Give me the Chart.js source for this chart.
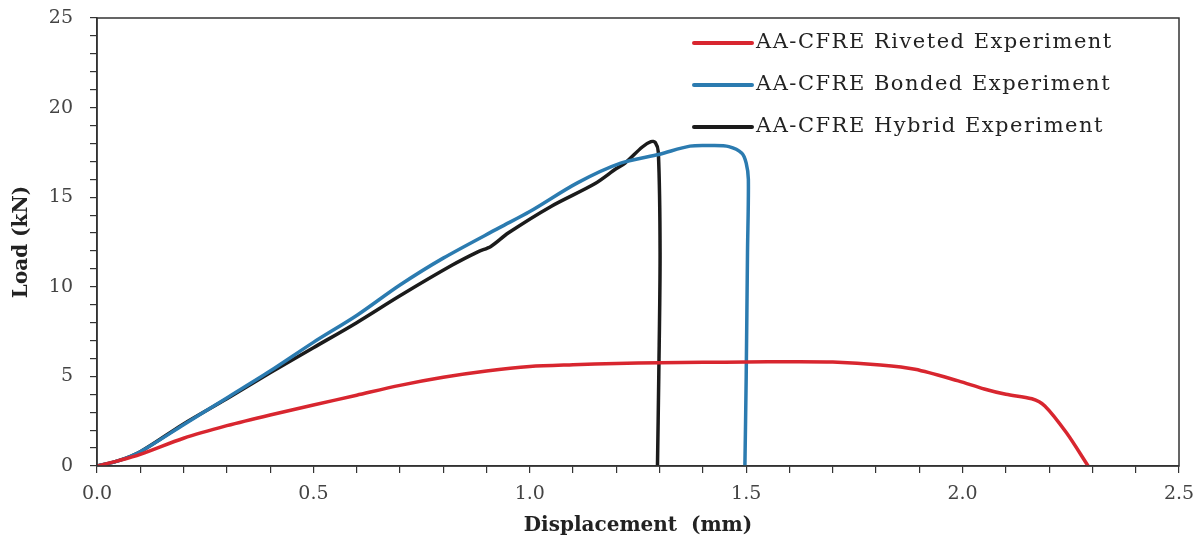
<!DOCTYPE html>
<html>
<head>
<meta charset="utf-8">
<script src="https://cdn.jsdelivr.net/npm/chart.js@4.4.0/dist/chart.umd.min.js"></script>
<style>
  html, body { margin: 0; padding: 0; background: #fff; }
  #wrap { width: 1203px; height: 542px; }
</style>
</head>
<body>
<div id="wrap"><canvas id="grafica"></canvas></div>
<script>
// displacement (mm) / load (kN)
var rivetedX = [0, 0.05, 0.1, 0.2, 0.3, 0.4, 0.5, 0.6, 0.7, 0.8, 0.9, 1.0, 1.1, 1.2, 1.3, 1.4, 1.5, 1.6, 1.7, 1.81, 1.89, 1.99, 2.05, 2.1, 2.16, 2.19, 2.24, 2.29];
var rivetedY = [0, 0.3, 0.65, 1.55, 2.25, 2.85, 3.4, 3.95, 4.5, 4.95, 5.3, 5.55, 5.65, 5.72, 5.76, 5.79, 5.8, 5.82, 5.8, 5.64, 5.4, 4.75, 4.3, 4.0, 3.75, 3.35, 1.85, 0];

var bondedX = [0, 0.05, 0.1, 0.2, 0.3, 0.4, 0.5, 0.6, 0.7, 0.8, 0.93, 1.0, 1.11, 1.21, 1.3, 1.37, 1.42, 1.46, 1.49, 1.5, 1.505, 1.503, 1.5, 1.497];
var bondedY = [0, 0.3, 0.8, 2.3, 3.8, 5.3, 6.9, 8.4, 10.1, 11.6, 13.3, 14.2, 15.8, 16.9, 17.4, 17.85, 17.88, 17.82, 17.45, 16.9, 16.0, 11.9, 5, 0];

var hybridX = [0, 0.05, 0.1, 0.2, 0.3, 0.4, 0.5, 0.6, 0.7, 0.82, 0.88, 0.91, 0.95, 1.05, 1.15, 1.2, 1.22, 1.26, 1.28, 1.29, 1.297, 1.301, 1.298, 1.295];
var hybridY = [0, 0.3, 0.8, 2.35, 3.75, 5.2, 6.6, 8.0, 9.5, 11.2, 11.95, 12.25, 13.0, 14.5, 15.75, 16.6, 16.9, 17.8, 18.1, 18.05, 17.5, 11.9, 5, 0];

var nombres = ['AA-CFRE Riveted Experiment', 'AA-CFRE Bonded Experiment', 'AA-CFRE Hybrid Experiment'];
var colores = ['#d8262f', '#2b7bb0', '#1b1b1b'];

var xMarcas = [0.0, 0.5, 1.0, 1.5, 2.0, 2.5];
var yMarcas = [0, 5, 10, 15, 20, 25];

function puntos(xs, ys) {
    var r = [];
    for (var i = 0; i < xs.length; i++) r.push({x: xs[i], y: ys[i]});
    return r;
}

var fuente = 'DejaVu Serif';

var marco = {
    id: 'marco',
    afterDatasetsDraw: function(chart) {
        var a = chart.chartArea, c = chart.ctx;
        c.save();
        c.strokeStyle = '#333';
        c.lineWidth = 1.5;
        c.strokeRect(a.left, a.top, a.right - a.left, a.bottom - a.top);
        c.restore();
    }
};

var leyenda = {
    id: 'leyenda',
    afterDraw: function(chart) {
        var c = chart.ctx;
        c.save();
        c.font = '21px "' + fuente + '"';
        c.letterSpacing = '1.5px';
        c.textBaseline = 'middle';
        c.fillStyle = '#222';
        chart.data.datasets.forEach(function(ds, i) {
            var y = 43 + i * 42;
            c.strokeStyle = ds.borderColor;
            c.lineWidth = 4;
            c.lineCap = 'round';
            c.beginPath();
            c.moveTo(694, y);
            c.lineTo(752, y);
            c.stroke();
            c.fillText(ds.label, 756, y);
        });
        c.restore();
    }
};

var ctx = document.getElementById('grafica').getContext('2d');
var chart = new Chart(ctx, {
    type: 'scatter',
    data: {
        datasets: [
            {label: nombres[0], data: puntos(rivetedX, rivetedY), borderColor: colores[0]},
            {label: nombres[1], data: puntos(bondedX, bondedY), borderColor: colores[1]},
            {label: nombres[2], data: puntos(hybridX, hybridY), borderColor: colores[2]}
        ].map(function(d) {
            d.showLine = true;
            d.borderWidth = 3.5;
            d.pointRadius = 0;
            d.tension = 0.3;
            d.backgroundColor = d.borderColor;
            return d;
        })
    },
    options: {
        responsive: true,
        maintainAspectRatio: false,
        animation: false,
        layout: {padding: {top: 18, right: 24, left: 0, bottom: 4}},
        plugins: {legend: {display: false}, tooltip: {enabled: false}},
        scales: {
            x: {
                type: 'linear', min: 0, max: 2.5,
                afterFit: function(s) { s.height = 72; s.paddingLeft = 0; s.paddingRight = 0; },
                afterBuildTicks: function(s) {
                    var t = [];
                    for (var i = 0; i <= 25; i++) t.push({value: i / 10});
                    s.ticks = t;
                },
                border: {display: true, color: '#333', width: 1.5},
                grid: {drawOnChartArea: false, drawTicks: true, tickLength: 7, color: '#333', lineWidth: 1.2},
                ticks: {
                    autoSkip: false, maxRotation: 0, padding: 10, color: '#444',
                    font: {family: fuente, size: 19},
                    callback: function(v) {
                        for (var k = 0; k < xMarcas.length; k++) if (Math.abs(v - xMarcas[k]) < 1e-6) return xMarcas[k].toFixed(1);
                        return '';
                    }
                },
                title: {display: true, text: 'Displacement  (mm)', color: '#222', font: {family: fuente, size: 20, weight: 'bold'}, padding: {top: 2, bottom: 0}}
            },
            y: {
                type: 'linear', min: 0, max: 25,
                afterFit: function(s) { s.width = 97; s.paddingTop = 0; s.paddingBottom = 0; },
                afterBuildTicks: function(s) {
                    var t = [];
                    for (var i = 0; i <= 25; i++) t.push({value: i});
                    s.ticks = t;
                },
                border: {display: true, color: '#333', width: 1.5},
                grid: {drawOnChartArea: false, drawTicks: true, tickLength: 7, color: '#333', lineWidth: 1.2},
                ticks: {
                    autoSkip: false, padding: 17, color: '#444',
                    font: {family: fuente, size: 19},
                    callback: function(v) { return yMarcas.indexOf(v) >= 0 ? String(v) : ''; }
                },
                title: {display: true, text: 'Load (kN)', color: '#222', font: {family: fuente, size: 20, weight: 'bold'}, padding: {top: 10, bottom: 0}}
            }
        }
    },
    plugins: [marco, leyenda]
});
</script>
</body>
</html>
